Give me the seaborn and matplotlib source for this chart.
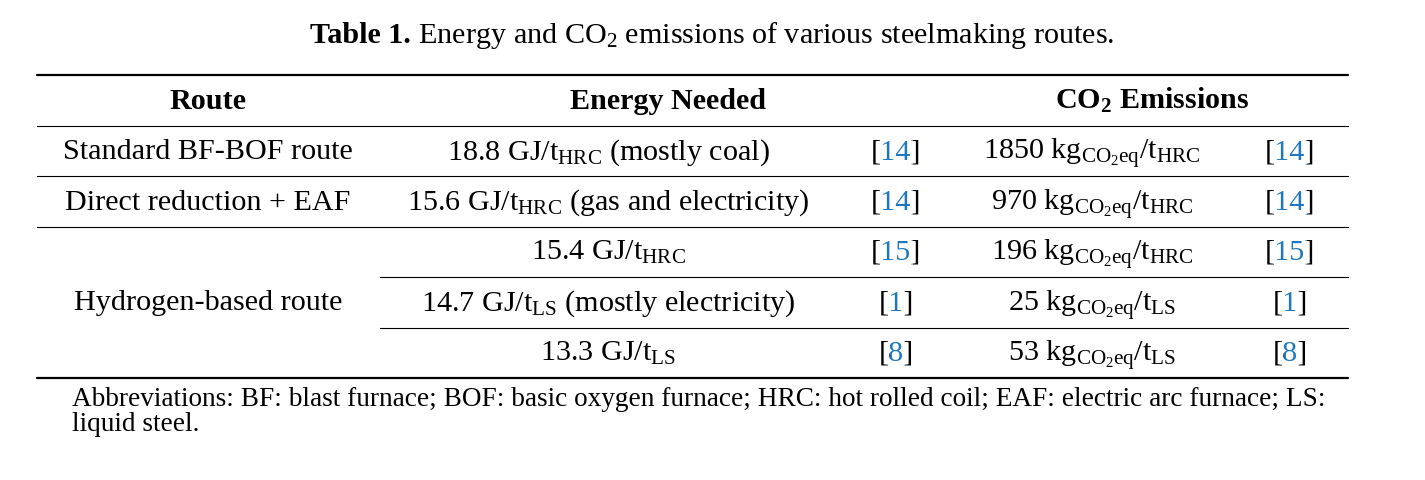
import matplotlib
matplotlib.use("Agg")
import matplotlib.pyplot as plt
from matplotlib.transforms import Bbox
import seaborn as sns

# Table content
routes = ["Standard BF-BOF route", "Direct reduction + EAF", "Hydrogen-based route"]
route_rows = [[0], [1], [2, 3, 4]]
energy = [r"18.8 GJ/t$_{\mathrm{HRC}}$ (mostly coal)",
          r"15.6 GJ/t$_{\mathrm{HRC}}$ (gas and electricity)",
          r"15.4 GJ/t$_{\mathrm{HRC}}$",
          r"14.7 GJ/t$_{\mathrm{LS}}$ (mostly electricity)",
          r"13.3 GJ/t$_{\mathrm{LS}}$"]
energy_refs = ["14", "14", "15", "1", "8"]
co2 = [r"1850 kg$_{\mathrm{CO_2eq}}$/t$_{\mathrm{HRC}}$",
       r"970 kg$_{\mathrm{CO_2eq}}$/t$_{\mathrm{HRC}}$",
       r"196 kg$_{\mathrm{CO_2eq}}$/t$_{\mathrm{HRC}}$",
       r"25 kg$_{\mathrm{CO_2eq}}$/t$_{\mathrm{LS}}$",
       r"53 kg$_{\mathrm{CO_2eq}}$/t$_{\mathrm{LS}}$"]
co2_refs = ["14", "14", "15", "1", "8"]
headers = ["Route", "Energy Needed", r"CO$_\mathbf{2}$ Emissions"]
title_bold = "Table 1."
title_rest = r" Energy and CO$_2$ emissions of various steelmaking routes."
footnote = ["Abbreviations: BF: blast furnace; BOF: basic oxygen furnace; HRC: hot rolled coil; EAF: electric arc furnace; LS:",
            "liquid steel."]

sns.set_theme(style="white")
FONT = "Liberation Serif"
plt.rcParams["font.family"] = [FONT, "DejaVu Serif"]
plt.rcParams["text.color"] = "black"
plt.rcParams["mathtext.fontset"] = "custom"
plt.rcParams["mathtext.rm"] = FONT
plt.rcParams["mathtext.it"] = FONT + ":italic"
plt.rcParams["mathtext.bf"] = FONT + ":bold"

BLUE = "#1f78bf"
FS = 21.7

fig = plt.figure(figsize=(14.25, 4.8), dpi=100)
ax = fig.add_axes([0, 0, 1, 1])
ax.set_xlim(0, 1425)
ax.set_ylim(480, 0)
ax.axis("off")
renderer = fig.canvas.get_renderer()


def width(s, size=FS, weight="normal"):
    t = ax.text(0, 0, s, fontsize=size, fontweight=weight)
    w = t.get_window_extent(renderer).width
    t.remove()
    return w


def pieces(x, y, parts, size=FS):
    objs = []
    for s, weight in parts:
        objs.append(ax.text(0, y, s, fontweight=weight, fontsize=size,
                            va="baseline", ha="left"))
    widths = [o.get_window_extent(renderer).width for o in objs]
    x0 = x - sum(widths) / 2
    for o, w in zip(objs, widths):
        o.set_x(x0)
        x0 += w


def ref(x, y, num):
    # the citation number is blue, brackets black: same string drawn three times, clipped
    s = "[" + num + "]"
    total = width(s)
    x0 = x - total / 2
    a = x0 + width("[") + 1.5
    b = x0 + width("[" + num) + 1.5
    for lo, hi, color in [(0, a, "black"), (a, b, BLUE), (b, 1425, "black")]:
        t = ax.text(x, y, s, fontsize=FS, ha="center", va="baseline", color=color,
                    clip_on=True)
        t.set_clip_path(None)
        t.set_clip_box(Bbox.from_extents(lo, 0, hi, 480))
        t.set_clip_on(True)


left, right = 37, 1348
col_route, col_energy, col_eref, col_co2, col_cref = 208, 608, 896, 1092, 1290
row_top = 126
row_h = 50.4

# title
pieces(712, 43, [(title_bold, "bold"), (title_rest, "normal")])

# rules
ax.plot([left, right], [75, 75], color="black", lw=1.6)
ax.plot([left, right], [row_top, row_top], color="black", lw=0.8)
ax.plot([left, right], [378, 378], color="black", lw=1.6)

# header
for x, h in zip([col_route, 668, 1152], headers):
    ax.text(x, 109, h, fontsize=FS, fontweight="bold", ha="center", va="baseline")

for i in range(len(energy)):
    yb = row_top + row_h * (i + 0.5) + 8
    ax.text(col_energy, yb, energy[i], fontsize=FS, ha="center", va="baseline")
    ref(col_eref, yb, energy_refs[i])
    ax.text(col_co2, yb, co2[i], fontsize=FS, ha="center", va="baseline")
    ref(col_cref, yb, co2_refs[i])
    if i < len(energy) - 1:
        y_line = row_top + row_h * (i + 1)
        # inner lines inside the multi-row group start after the route column
        x_start = 380 if i >= 2 else left
        ax.plot([x_start, right], [y_line, y_line], color="black", lw=0.8)

for name, rows in zip(routes, route_rows):
    mid = row_top + row_h * (sum(rows) / len(rows) + 0.5) + 8
    ax.text(col_route, mid, name, fontsize=FS, ha="center", va="baseline")

# footnote
for k, line in enumerate(footnote):
    ax.text(72, 406 + 25 * k, line, fontsize=19.6, ha="left", va="baseline")

fig.savefig("out.png", dpi=100, facecolor="white")
